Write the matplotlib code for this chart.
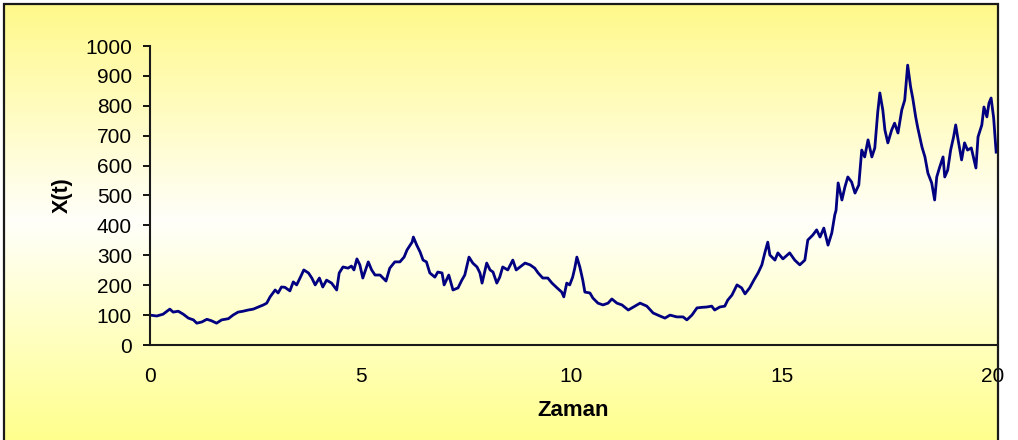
import matplotlib
matplotlib.use('Agg')
import matplotlib.pyplot as plt
import numpy as np
from matplotlib.colors import LinearSegmentedColormap
from matplotlib.patches import Rectangle

plt.rcParams['font.family'] = ['Liberation Sans', 'DejaVu Sans']

# path values
t = [0.00, 0.16, 0.31, 0.47, 0.55, 0.67, 0.79, 0.91, 1.03, 1.11, 1.23, 1.35, 1.46, 1.58,
     1.70, 1.86, 1.97, 2.09, 2.21, 2.33, 2.45, 2.57, 2.69, 2.77, 2.85, 2.97, 3.04, 3.12,
     3.20, 3.32, 3.40, 3.48, 3.56, 3.65, 3.76, 3.84, 3.92, 4.02, 4.10, 4.19, 4.31, 4.43,
     4.49, 4.58, 4.70, 4.78, 4.84, 4.91, 4.98, 5.05, 5.18, 5.26, 5.34, 5.46, 5.60, 5.69,
     5.81, 5.93, 6.03, 6.10, 6.22, 6.25, 6.33, 6.41, 6.48, 6.56, 6.64, 6.76, 6.83, 6.93,
     6.98, 7.09, 7.19, 7.31, 7.40, 7.47, 7.57, 7.66, 7.76, 7.83, 7.88, 7.99, 8.07, 8.14,
     8.23, 8.30, 8.37, 8.49, 8.61, 8.69, 8.78, 8.90, 9.02, 9.13, 9.21, 9.32, 9.44, 9.54,
     9.66, 9.77, 9.82, 9.89, 9.96, 10.03, 10.08, 10.13, 10.20, 10.27, 10.32, 10.44, 10.51,
     10.63, 10.75, 10.87, 10.96, 11.08, 11.20, 11.35, 11.47, 11.63, 11.79, 11.94, 12.10,
     12.22, 12.34, 12.50, 12.65, 12.74, 12.86, 12.98, 13.10, 13.21, 13.33, 13.40, 13.52,
     13.64, 13.71, 13.81, 13.93, 14.04, 14.12, 14.23, 14.33, 14.43, 14.52, 14.59, 14.66,
     14.71, 14.83, 14.90, 15.02, 15.18, 15.30, 15.42, 15.54, 15.61, 15.73, 15.82, 15.90,
     15.99, 16.09, 16.18, 16.25, 16.28, 16.33, 16.42, 16.49, 16.56, 16.65, 16.73, 16.82,
     16.89, 16.96, 17.04, 17.13, 17.20, 17.27, 17.32, 17.39, 17.44, 17.51, 17.60, 17.67,
     17.75, 17.84, 17.91, 17.98, 18.05, 18.10, 18.17, 18.22, 18.32, 18.39, 18.46, 18.55,
     18.62, 18.67, 18.74, 18.82, 18.86, 18.93, 19.00, 19.07, 19.12, 19.17, 19.26, 19.33,
     19.40, 19.49, 19.60, 19.65, 19.74, 19.79, 19.86, 19.91, 19.96, 20.02, 20.08]
x = [100, 97, 103, 120, 110, 113, 103, 90, 84, 73, 77, 86, 81, 73,
     84, 88, 100, 110, 113, 117, 120, 127, 134, 140, 161, 184, 174, 194,
     193, 181, 211, 201, 224, 251, 241, 224, 201, 224, 194, 217, 207, 184,
     241, 261, 257, 264, 251, 288, 268, 224, 278, 251, 234, 234, 214, 257,
     278, 278, 294, 318, 344, 361, 334, 311, 284, 278, 241, 227, 244, 241,
     201, 234, 184, 191, 217, 234, 294, 274, 261, 241, 207, 274, 251, 244,
     207, 227, 261, 251, 284, 251, 261, 274, 268, 257, 241, 224, 224, 207,
     191, 177, 161, 207, 201, 227, 257, 294, 261, 217, 177, 174, 157,
     140, 134, 140, 154, 140, 134, 117, 127, 140, 130, 107, 97,
     90, 100, 94, 94, 84, 100, 124, 126, 127, 130, 117, 127,
     130, 150, 167, 201, 191, 171, 191, 217, 241, 268, 308, 344,
     301, 284, 308, 288, 308, 284, 268, 284, 351, 368, 385, 361,
     391, 334, 375, 435, 450, 542, 485, 528, 562, 545, 508, 535,
     652, 629, 686, 629, 659, 779, 843, 786, 719, 676, 719, 742,
     709, 786, 819, 936, 863, 826, 763, 726, 662, 629, 575, 542,
     485, 562, 595, 629, 562, 585, 652, 696, 736, 692, 619, 676,
     652, 659, 592, 696, 736, 796, 763, 809, 826, 760, 645]

y_ticks = [0, 100, 200, 300, 400, 500, 600, 700, 800, 900, 1000]
x_ticks = [0, 5, 10, 15, 20]

W, H = 1018, 440
fig = plt.figure(figsize=(W / 100, H / 100), dpi=100, facecolor='white')

# chart area: yellow -> white -> yellow vertical gradient
bg = fig.add_axes([4 / W, 0, (998 - 4) / W, 436 / H])
cmap = LinearSegmentedColormap.from_list(
    'excel', [(0.0, '#fff98a'), (0.5, '#fffffa'), (1.0, '#ffff8e')])
grad = np.linspace(0, 1, 256).reshape(-1, 1)
bg.imshow(grad, cmap=cmap, aspect='auto', extent=[0, 1, 0, 1], origin='upper')
bg.set_axis_off()

fig.patches.append(Rectangle((4 / W, -0.05), (998 - 4) / W, 0.05 + 436 / H,
                             transform=fig.transFigure, fill=False,
                             edgecolor='#1a1a1a', linewidth=1.6, zorder=5))

ax = fig.add_axes([150 / W, (H - 345) / H, 847 / W, 299 / H])
ax.patch.set_alpha(0)
ax.plot(t, x, color='#000080', linewidth=2.0)

ax.set_xlim(0, 20.1)
ax.set_ylim(0, 1000)
ax.set_xticks(x_ticks)
ax.set_yticks(y_ticks)
ax.tick_params(axis='x', length=0, pad=16, labelsize=15)
ax.tick_params(axis='y', direction='out', length=5, width=1.3, pad=8, labelsize=15)

for s in ['top', 'right']:
    ax.spines[s].set_visible(False)
for s in ['left', 'bottom']:
    ax.spines[s].set_linewidth(1.5)
    ax.spines[s].set_color('#1a1a1a')

ax.set_xlabel('Zaman', fontsize=16, fontweight='bold', labelpad=10)
ax.set_ylabel('X(t)', fontsize=15.5, fontweight='bold', labelpad=9)

plt.savefig('out.png', dpi=100, facecolor='white')
